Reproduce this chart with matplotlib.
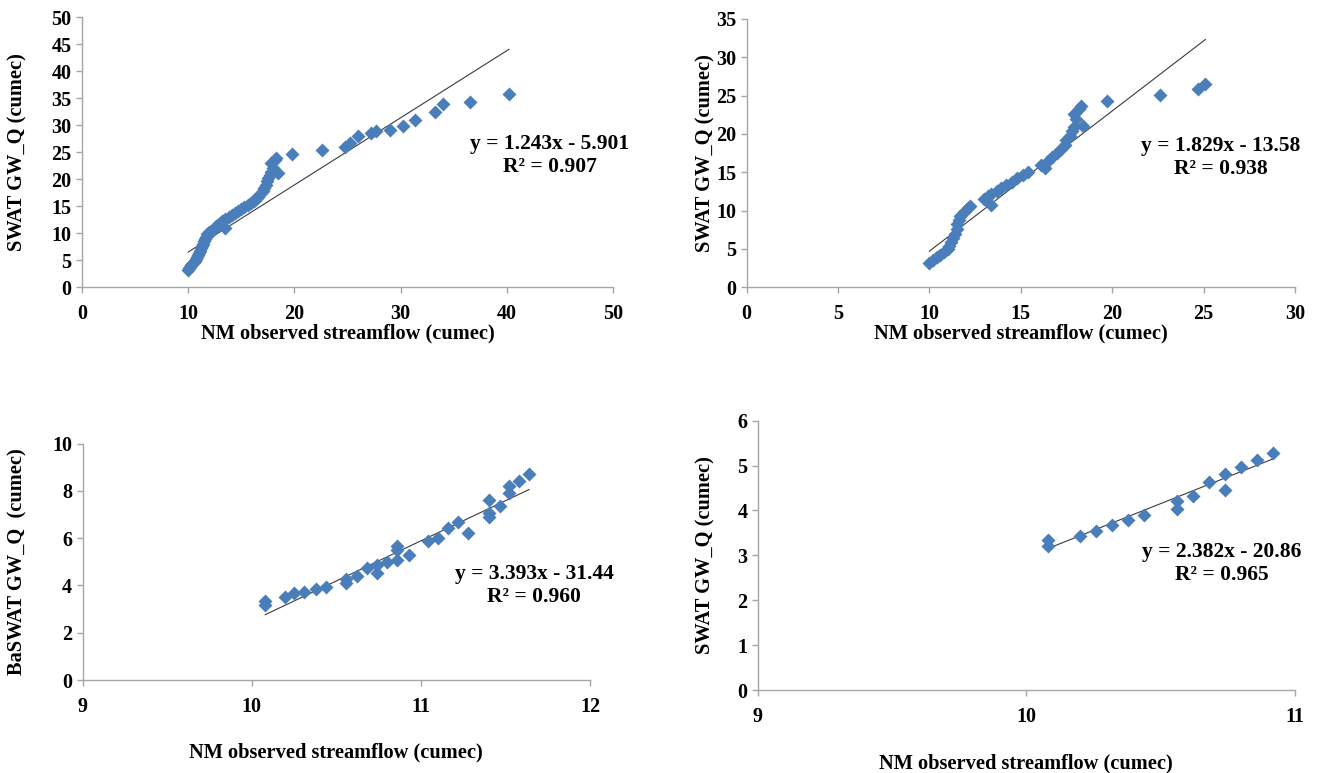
import numpy as np
import matplotlib
matplotlib.use("Agg")
import matplotlib.pyplot as plt

plt.rcParams['font.family'] = ['Liberation Serif', 'DejaVu Serif']
plt.rcParams['font.weight'] = 'bold'

# panel 1 : daily flows, whole range
obs1 = [10.0, 10.1, 10.2, 10.3, 10.4, 10.5, 10.6, 10.7, 10.8, 10.9, 11.0, 11.1, 11.2, 11.3,
        11.4, 11.5, 11.6, 11.7, 11.8, 12.0, 12.2, 12.6, 12.9, 13.2, 13.5, 13.5, 13.8, 14.1,
        14.4, 14.7, 15.0, 15.3, 15.6, 15.9, 16.2, 16.2, 16.4, 16.6, 16.8, 17.0, 17.1, 17.3,
        17.4, 17.5, 17.7, 17.8, 18.5, 18.0, 17.8, 18.2, 18.3, 19.8, 22.6, 24.8, 25.2, 26.0,
        27.2, 27.7, 29.0, 30.2, 31.4, 33.2, 34.0, 36.5, 40.2]
sim1 = [3.2, 3.5, 3.8, 4.1, 4.3, 4.6, 4.9, 5.2, 5.6, 6.0, 6.4, 6.8, 7.3, 7.7,
        8.1, 8.6, 9.0, 9.4, 9.8, 10.2, 10.5, 11.4, 11.8, 12.2, 11.0, 12.6, 13.0, 13.4,
        13.7, 14.1, 14.5, 14.8, 15.2, 15.6, 15.9, 16.1, 16.4, 16.8, 17.3, 17.8, 18.4, 19.0,
        19.6, 20.2, 20.8, 21.4, 21.2, 22.0, 23.0, 23.6, 24.0, 24.6, 25.4, 26.0, 26.7, 28.0,
        28.6, 29.0, 29.2, 29.9, 30.9, 32.4, 34.0, 34.4, 35.8]

# panel 2
obs2 = [10.0, 10.2, 10.4, 10.6, 10.8, 11.0, 11.1, 11.2, 11.3, 11.4, 11.5, 11.5, 11.6, 11.7,
        11.9, 12.1, 12.2, 13.0, 13.2, 13.4, 13.4, 13.7, 13.9, 14.2, 14.5, 14.8, 15.1, 15.4,
        16.1, 16.3, 16.5, 16.7, 17.0, 17.2, 17.4, 17.5, 17.7, 17.8, 17.9, 18.4, 18.0, 17.9,
        18.2, 18.3, 19.7, 22.6, 24.7, 25.1]
sim2 = [3.2, 3.5, 3.9, 4.2, 4.6, 5.0, 5.4, 5.9, 6.4, 7.0, 7.6, 8.2, 8.8, 9.3,
        9.8, 10.3, 10.6, 11.5, 11.9, 10.8, 12.2, 12.6, 13.0, 13.4, 13.8, 14.2, 14.6, 15.0,
        16.0, 15.5, 16.5, 17.0, 17.5, 18.0, 18.6, 19.2, 19.8, 20.4, 20.9, 21.1, 22.0, 22.6,
        23.3, 23.7, 24.3, 25.1, 25.9, 26.5]

# panel 3
obs3 = [10.08, 10.08, 10.20, 10.25, 10.31, 10.38, 10.44, 10.56, 10.56, 10.62, 10.68, 10.74,
        10.74, 10.80, 10.86, 10.86, 10.86, 10.93, 11.04, 11.10, 11.16, 11.22, 11.28, 11.40,
        11.40, 11.40, 11.47, 11.52, 11.52, 11.58, 11.64]
sim3 = [3.32, 3.18, 3.53, 3.67, 3.70, 3.84, 3.95, 4.10, 4.25, 4.38, 4.73, 4.52,
        4.87, 5.01, 5.08, 5.50, 5.65, 5.30, 5.86, 6.00, 6.43, 6.67, 6.22, 7.63,
        6.89, 7.05, 7.37, 7.91, 8.19, 8.40, 8.69]

# panel 4
obs4 = [10.08, 10.08, 10.20, 10.26, 10.32, 10.38, 10.44, 10.56, 10.56, 10.62, 10.68, 10.74,
        10.74, 10.80, 10.86, 10.92]
sim4 = [3.35, 3.20, 3.44, 3.54, 3.67, 3.78, 3.91, 4.21, 4.04, 4.33, 4.64, 4.82,
        4.46, 4.96, 5.13, 5.27]

slopes = [1.243, 1.829, 3.393, 2.382]
icepts = [-5.901, -13.58, -31.44, -20.86]
r2 = ['0.907', '0.938', '0.960', '0.965']
ylabels = ['SWAT GW_Q (cumec)', 'SWAT GW_Q (cumec)', 'BaSWAT GW_Q  (cumec)', 'SWAT GW_Q (cumec)']
xlabel = 'NM observed streamflow (cumec)'

xlims = [(0, 50), (0, 30), (9, 12), (9, 11)]
ylims = [(0, 50), (0, 35), (0, 10), (0, 6)]
xsteps = [10, 5, 1, 1]
ysteps = [5, 5, 2, 1]

W, H = 1318, 773
# axes boxes in pixels: left, right, top, bottom
boxes = [(82, 613, 17.3, 287.3), (746.5, 1295, 19, 287.3),
         (82.5, 590, 443.5, 680), (757.7, 1294.7, 420.7, 690)]
eq_pos = [(550, 155), (1221, 158), (534, 585), (1222, 564)]
ylab_x = [17, 705, 17, 705]
xlab_y = [333, 333, 752, 763]

blue = '#4a7ebb'
grey = '#a6a6a6'

fig = plt.figure(figsize=(W / 100, H / 100), dpi=100)
data = [(obs1, sim1), (obs2, sim2), (obs3, sim3), (obs4, sim4)]

for i, (xo, ys) in enumerate(data):
    l, r, t, b = boxes[i]
    ax = fig.add_axes([l / W, 1 - b / H, (r - l) / W, (b - t) / H])
    xo = np.array(xo)
    ax.plot(xo, ys, linestyle='none', marker='D', markersize=7,
            color=blue, mec='none', zorder=3)
    xx = np.array([xo.min(), xo.max()])
    ax.plot(xx, slopes[i] * xx + icepts[i], color='#3a3a3a', lw=0.8, zorder=2)

    ax.set_xlim(*xlims[i])
    ax.set_ylim(*ylims[i])
    ax.set_xticks(np.arange(xlims[i][0], xlims[i][1] + 0.01, xsteps[i]))
    ax.set_yticks(np.arange(ylims[i][0], ylims[i][1] + 0.01, ysteps[i]))
    for s in ['top', 'right']:
        ax.spines[s].set_visible(False)
    for s in ['left', 'bottom']:
        ax.spines[s].set_color(grey)
        ax.spines[s].set_linewidth(1.0)
    ax.tick_params(axis='both', colors=grey, labelcolor='black', labelsize=14.5,
                   length=4, width=1.0)
    ax.tick_params(axis='x', pad=8)
    for lab in ax.get_xticklabels() + ax.get_yticklabels():
        lab.set_fontweight('bold')

    ax.set_ylabel(ylabels[i], fontsize=14.7, fontweight='bold', va='center')
    ax.yaxis.set_label_coords((ylab_x[i] - l) / (r - l), 0.5)
    ax.set_xlabel(xlabel, fontsize=14.7, fontweight='bold', va='center')
    ax.xaxis.set_label_coords(0.5, (b - xlab_y[i]) / (b - t))

    ex, ey = eq_pos[i]
    sign = '-' if icepts[i] < 0 else '+'
    txt = 'y = %.3fx %s %s\nR² = %s' % (slopes[i], sign,
                                       ('%g' % abs(icepts[i])), r2[i])
    fig.text(ex / W, 1 - ey / H, txt, ha='center', va='center', fontsize=15.5,
             fontweight='bold', linespacing=1.2, multialignment='center')

fig.savefig('out.png', dpi=100)
